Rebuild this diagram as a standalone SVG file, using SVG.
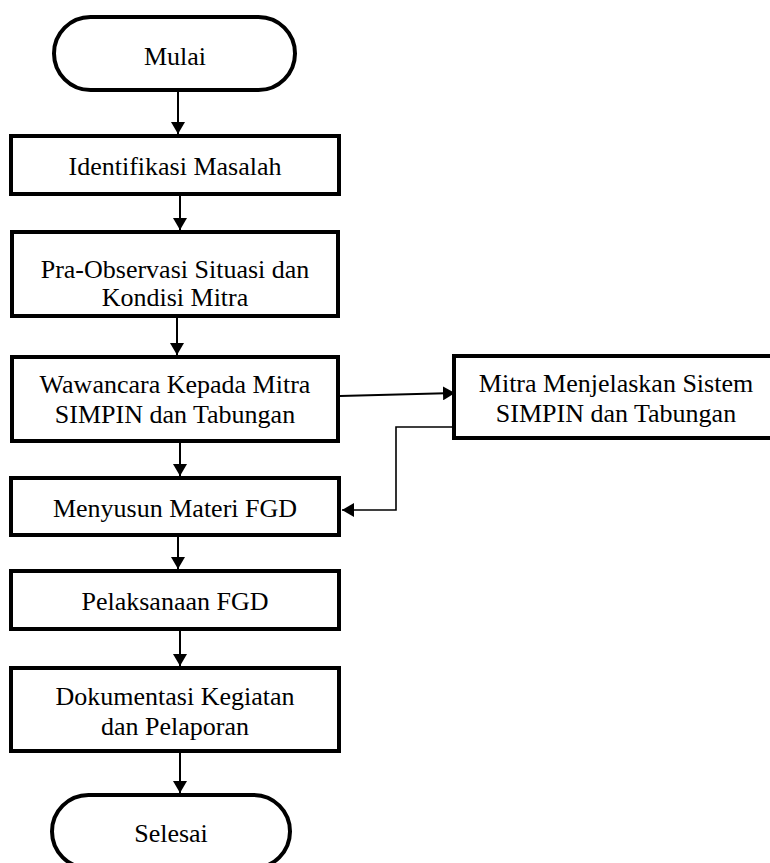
<svg xmlns="http://www.w3.org/2000/svg" width="770" height="863" viewBox="0 0 770 863">
<defs>
<style>
.box{fill:#fff;stroke:#000;stroke-width:4}
.t{font-family:"Liberation Serif","Times New Roman",serif;font-size:26px;fill:#000;text-anchor:middle}
.c{fill:none;stroke:#000;stroke-width:2}
.c2{fill:none;stroke:#000;stroke-width:1.6}
</style>
<marker id="ah" markerUnits="userSpaceOnUse" markerWidth="14" markerHeight="14" refX="12" refY="7" orient="auto">
<path d="M0,0 L12,7 L0,14 z" fill="#000"/>
</marker>
</defs>
<rect width="770" height="863" fill="#fff"/>
<g id="connectors">
<line class="c" x1="178" y1="92" x2="178" y2="134" marker-end="url(#ah)"/>
<line class="c" x1="180" y1="196" x2="180" y2="230" marker-end="url(#ah)"/>
<line class="c" x1="177" y1="318" x2="177" y2="355" marker-end="url(#ah)"/>
<line class="c" x1="340" y1="396" x2="455" y2="393" marker-end="url(#ah)"/>
<path class="c2" d="M452,427 H396 V510 H342" marker-end="url(#ah)"/>
<line class="c" x1="180" y1="443" x2="180" y2="476" marker-end="url(#ah)"/>
<line class="c" x1="178" y1="537" x2="178" y2="569" marker-end="url(#ah)"/>
<line class="c" x1="180" y1="631" x2="180" y2="666" marker-end="url(#ah)"/>
<line class="c" x1="180" y1="753" x2="180" y2="793" marker-end="url(#ah)"/>
</g>
<g id="mulai">
<rect class="box" x="54" y="17" width="241" height="73" rx="36.5" ry="36.5"/>
<text class="t" x="175" y="65">Mulai</text>
</g>
<g id="identifikasi">
<rect class="box" x="11" y="136" width="328" height="58"/>
<text class="t" x="175" y="175">Identifikasi Masalah</text>
</g>
<g id="pra-observasi">
<rect class="box" x="12" y="232" width="326" height="84"/>
<text class="t" x="175" y="278">Pra-Observasi Situasi dan</text>
<text class="t" x="175" y="306">Kondisi Mitra</text>
</g>
<g id="wawancara">
<rect class="box" x="12" y="357" width="326" height="84"/>
<text class="t" x="175" y="393">Wawancara Kepada Mitra</text>
<text class="t" x="175" y="423">SIMPIN dan Tabungan</text>
</g>
<g id="mitra-menjelaskan">
<rect class="box" x="454" y="356" width="330" height="82"/>
<text class="t" x="616" y="392">Mitra Menjelaskan Sistem</text>
<text class="t" x="616" y="422">SIMPIN dan Tabungan</text>
</g>
<g id="menyusun">
<rect class="box" x="11" y="478" width="328" height="57"/>
<text class="t" x="175" y="517">Menyusun Materi FGD</text>
</g>
<g id="pelaksanaan">
<rect class="box" x="11" y="571" width="328" height="58"/>
<text class="t" x="175" y="610">Pelaksanaan FGD</text>
</g>
<g id="dokumentasi">
<rect class="box" x="11" y="668" width="328" height="83"/>
<text class="t" x="175" y="705">Dokumentasi Kegiatan</text>
<text class="t" x="175" y="735">dan Pelaporan</text>
</g>
<g id="selesai">
<rect class="box" x="52" y="795" width="238" height="73" rx="36.5" ry="36.5"/>
<text class="t" x="171" y="842">Selesai</text>
</g>
</svg>
